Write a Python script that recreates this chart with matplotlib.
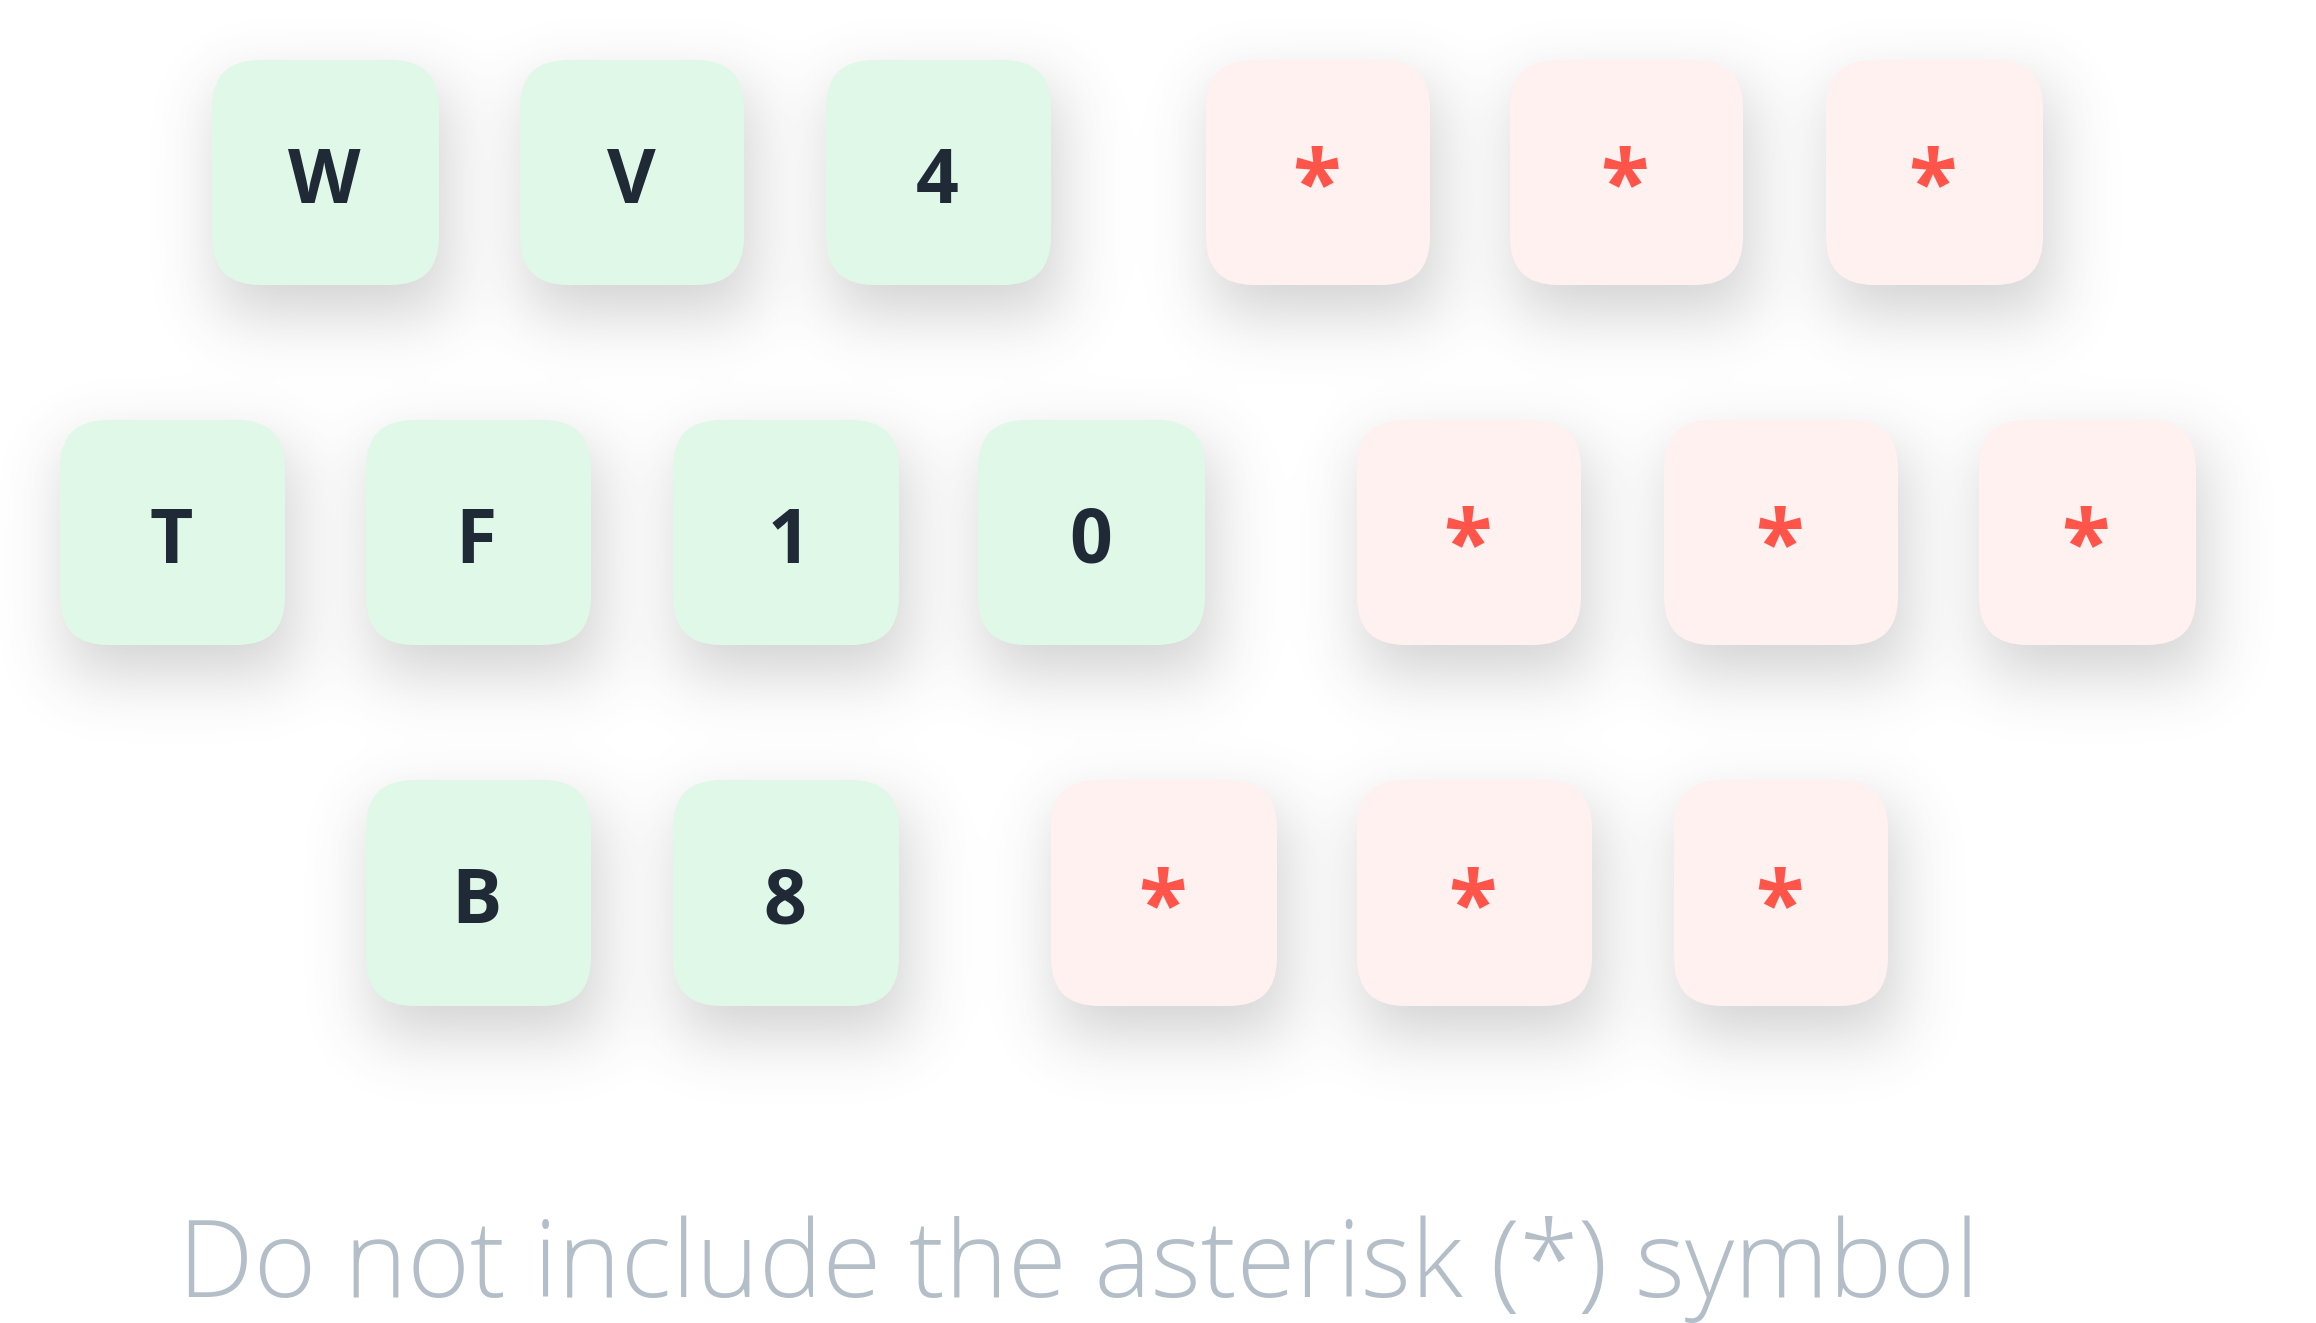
import numpy as np
import matplotlib.pyplot as plt
from matplotlib.patches import FancyBboxPatch
from matplotlib.textpath import TextPath
from matplotlib.font_manager import FontProperties

# tile labels per row ("*" = masked character)
row1_labels = ['W', 'V', '4', '*', '*', '*']
row2_labels = ['T', 'F', '1', '0', '*', '*', '*']
row3_labels = ['B', '8', '*', '*', '*']
caption = 'Do not include the asterisk (*) symbol'

# layout (pixels): left/right edges of each tile and top/bottom of each row
row1_x = [(212, 439), (520, 744), (826, 1051), (1206, 1430), (1510, 1743), (1826, 2043)]
row2_x = [(60, 285), (366, 591), (673, 899), (978, 1205), (1357, 1581), (1664, 1898), (1979, 2196)]
row3_x = [(366, 591), (673, 899), (1051, 1277), (1357, 1592), (1674, 1888)]
row_y = [(60, 285), (420, 645), (780, 1006)]

W_PX, H_PX = 2316, 1323
DPI = 100
PT2PX = DPI / 72.0

GREEN = '#e0f8e8'
PINK = '#fff1f0'
DARK = '#1f2a36'
RED = '#ff544a'
GREY = '#b3bec8'

letter_fp = FontProperties(family='Open Sans', weight='bold', size=54)
star_fp = FontProperties(family='Open Sans', weight='bold', size=64)
caption_fp = FontProperties(family='Open Sans', weight='light', size=77)


def blur(img, sigma):
    # gaussian blur through fft, padded to avoid wrap-around
    pad = int(4 * sigma)
    p = np.pad(img, pad)
    fy = np.fft.fftfreq(p.shape[0])[:, None]
    fx = np.fft.fftfreq(p.shape[1])[None, :]
    g = np.exp(-2 * (np.pi * sigma) ** 2 * (fx ** 2 + fy ** 2))
    out = np.real(np.fft.ifft2(np.fft.fft2(p) * g))
    return out[pad:-pad, pad:-pad]


def put_centered(ax, s, cx, cy, fp, color):
    # centre the glyph ink (not the text box) on (cx, cy)
    ext = TextPath((0, 0), s, prop=fp, size=fp.get_size_in_points()).get_extents()
    x = cx - (ext.x0 + ext.x1) / 2 * PT2PX
    y = cy + (ext.y0 + ext.y1) / 2 * PT2PX
    ax.text(x, y, s, fontproperties=fp, color=color, ha='left', va='baseline', zorder=4)


fig = plt.figure(figsize=(W_PX / DPI, H_PX / DPI), dpi=DPI)
ax = fig.add_axes([0, 0, 1, 1])
ax.set_xlim(0, W_PX)
ax.set_ylim(H_PX, 0)
ax.axis('off')

rows = [(row1_labels, row1_x, row_y[0]), (row2_labels, row2_x, row_y[1]), (row3_labels, row3_x, row_y[2])]

# soft drop shadows
mask = np.zeros((H_PX, W_PX))
for labels, xs, (y0, y1) in rows:
    for (x0, x1) in xs:
        mask[y0 + 28:y1 + 28, x0 + 8:x1 + 8] = 1.0
shadow = blur(mask, 32)
rgba = np.zeros((H_PX, W_PX, 4))
rgba[..., :3] = 0.33
rgba[..., 3] = np.clip(shadow, 0, 1) * 0.27
ax.imshow(rgba, extent=(0, W_PX, H_PX, 0), interpolation='bilinear', zorder=1)

for labels, xs, (y0, y1) in rows:
    for lab, (x0, x1) in zip(labels, xs):
        masked = lab == '*'
        box = FancyBboxPatch((x0, y0), x1 - x0, y1 - y0,
                             boxstyle='round,pad=0,rounding_size=48',
                             facecolor=PINK if masked else GREEN,
                             edgecolor='none', zorder=2)
        ax.add_patch(box)
        cx = (x0 + x1) / 2
        cy = (y0 + y1) / 2
        if masked:
            put_centered(ax, lab, cx - 2, cy - 6, star_fp, RED)
        else:
            put_centered(ax, lab, cx - 1, cy + 3.5, letter_fp, DARK)

ax.text(178, 1297, caption, fontproperties=caption_fp, color=GREY,
        ha='left', va='baseline', zorder=4)

fig.savefig('out.png', dpi=DPI, facecolor='white')
